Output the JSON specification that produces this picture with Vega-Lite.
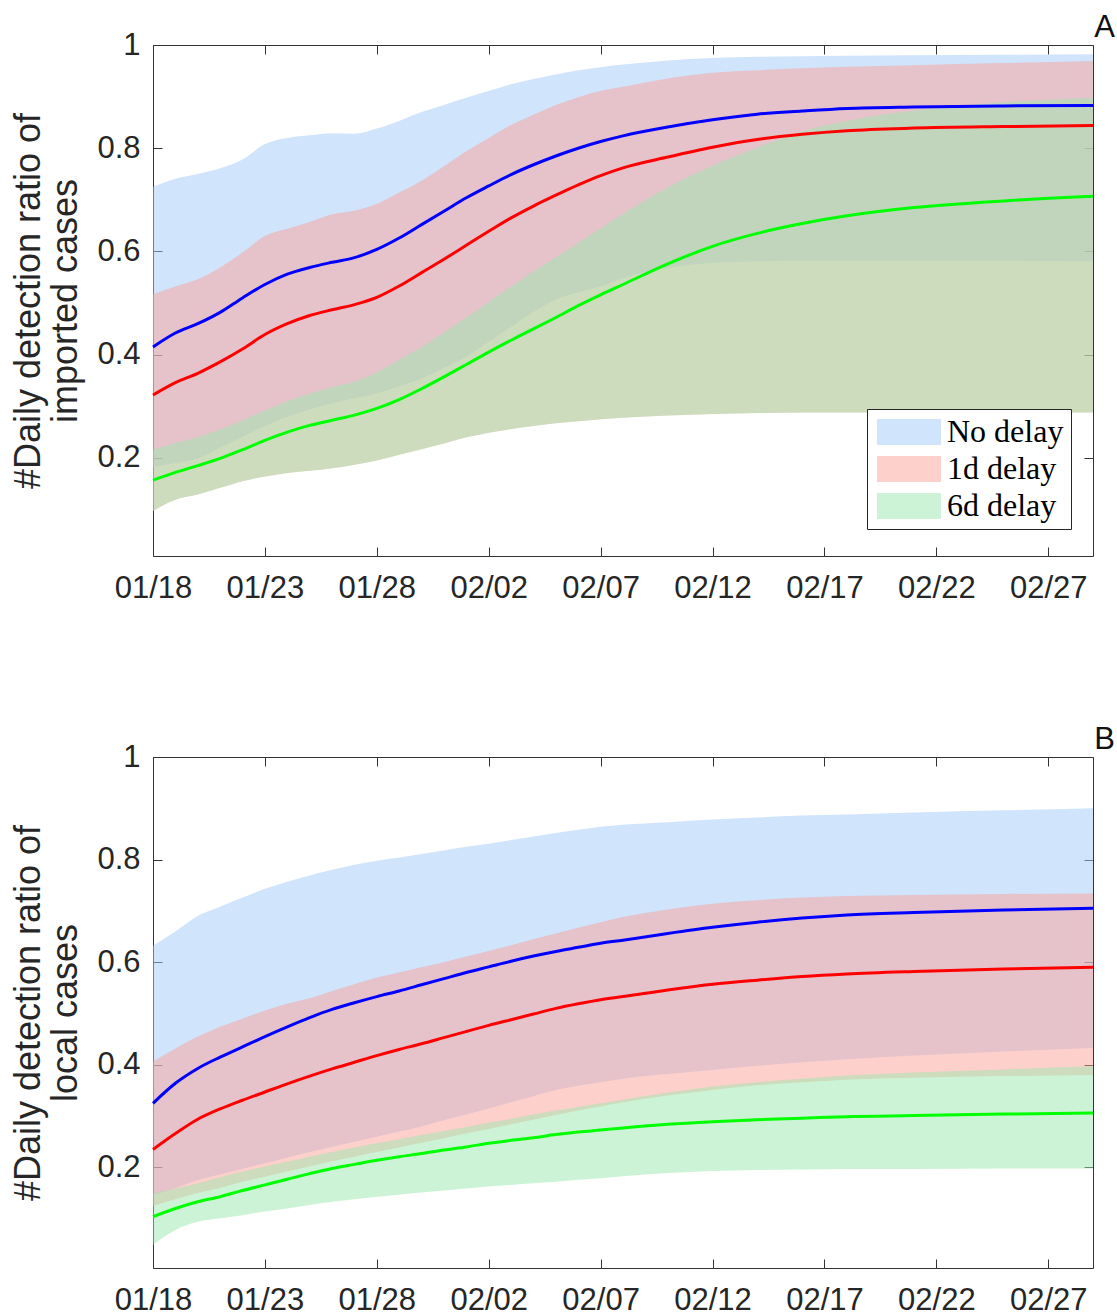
{
  "$schema": "https://vega.github.io/schema/vega-lite/v6.json",
  "background": "white",
  "padding": {"left": 10, "top": 12, "right": 2, "bottom": 2},
  "spacing": 121,
  "config": {
    "view": {"stroke": null},
    "axis": {
      "domainColor": "#333333", "domainWidth": 1,
      "tickColor": "#333333", "tickWidth": 1, "tickSize": -9,
      "labelFont": "Liberation Sans", "labelFontSize": 31, "labelColor": "#262626",
      "labelFlush": false, "labelOverlap": false,
      "titleFont": "Liberation Sans", "titleFontSize": 36, "titleFontWeight": "normal",
      "titleColor": "#262626", "titleLineHeight": 37,
      "grid": false
    },
    "axisBottom": {"labelPadding": 26},
    "axisLeft": {"labelPadding": 22, "titlePadding": 12},
    "title": {"font": "Liberation Sans", "fontSize": 31, "fontWeight": "normal", "color": "#111111"},
    "legend": {
      "labelFont": "Liberation Serif", "labelFontSize": 32, "labelColor": "#000000", "labelLimit": 400,
      "symbolType": "M-1,-1L3.92,-1L3.92,1L-1,1Z", "symbolSize": 676,
      "symbolStrokeWidth": 0, "symbolOpacity": 0.5,
      "labelOffset": 41, "rowPadding": 5, "padding": 7,
      "fillColor": "white", "strokeColor": "#262626"
    }
  },
  "datasets": {
    "imported": [
      {"delay": "No delay", "date": "2020-01-18", "mean": 0.415, "lo": 0.183, "hi": 0.725},
      {"delay": "No delay", "date": "2020-01-19", "mean": 0.442, "lo": 0.190, "hi": 0.741},
      {"delay": "No delay", "date": "2020-01-20", "mean": 0.460, "lo": 0.199, "hi": 0.750},
      {"delay": "No delay", "date": "2020-01-21", "mean": 0.482, "lo": 0.220, "hi": 0.761},
      {"delay": "No delay", "date": "2020-01-22", "mean": 0.510, "lo": 0.241, "hi": 0.778},
      {"delay": "No delay", "date": "2020-01-23", "mean": 0.536, "lo": 0.262, "hi": 0.808},
      {"delay": "No delay", "date": "2020-01-24", "mean": 0.556, "lo": 0.280, "hi": 0.820},
      {"delay": "No delay", "date": "2020-01-25", "mean": 0.569, "lo": 0.294, "hi": 0.825},
      {"delay": "No delay", "date": "2020-01-26", "mean": 0.579, "lo": 0.306, "hi": 0.829},
      {"delay": "No delay", "date": "2020-01-27", "mean": 0.588, "lo": 0.316, "hi": 0.828},
      {"delay": "No delay", "date": "2020-01-28", "mean": 0.604, "lo": 0.325, "hi": 0.838},
      {"delay": "No delay", "date": "2020-01-29", "mean": 0.626, "lo": 0.339, "hi": 0.853},
      {"delay": "No delay", "date": "2020-01-30", "mean": 0.652, "lo": 0.354, "hi": 0.870},
      {"delay": "No delay", "date": "2020-01-31", "mean": 0.678, "lo": 0.374, "hi": 0.884},
      {"delay": "No delay", "date": "2020-02-01", "mean": 0.704, "lo": 0.396, "hi": 0.898},
      {"delay": "No delay", "date": "2020-02-02", "mean": 0.727, "lo": 0.425, "hi": 0.911},
      {"delay": "No delay", "date": "2020-02-03", "mean": 0.749, "lo": 0.454, "hi": 0.924},
      {"delay": "No delay", "date": "2020-02-04", "mean": 0.768, "lo": 0.483, "hi": 0.934},
      {"delay": "No delay", "date": "2020-02-05", "mean": 0.785, "lo": 0.507, "hi": 0.943},
      {"delay": "No delay", "date": "2020-02-06", "mean": 0.800, "lo": 0.521, "hi": 0.951},
      {"delay": "No delay", "date": "2020-02-07", "mean": 0.813, "lo": 0.532, "hi": 0.957},
      {"delay": "No delay", "date": "2020-02-08", "mean": 0.824, "lo": 0.548, "hi": 0.962},
      {"delay": "No delay", "date": "2020-02-10", "mean": 0.841, "lo": 0.568, "hi": 0.970},
      {"delay": "No delay", "date": "2020-02-12", "mean": 0.855, "lo": 0.578, "hi": 0.975},
      {"delay": "No delay", "date": "2020-02-14", "mean": 0.866, "lo": 0.581, "hi": 0.977},
      {"delay": "No delay", "date": "2020-02-16", "mean": 0.872, "lo": 0.582, "hi": 0.978},
      {"delay": "No delay", "date": "2020-02-18", "mean": 0.877, "lo": 0.582, "hi": 0.979},
      {"delay": "No delay", "date": "2020-02-21", "mean": 0.880, "lo": 0.582, "hi": 0.980},
      {"delay": "No delay", "date": "2020-02-25", "mean": 0.882, "lo": 0.582, "hi": 0.981},
      {"delay": "No delay", "date": "2020-02-29", "mean": 0.883, "lo": 0.581, "hi": 0.982},
      {"delay": "1d delay", "date": "2020-01-18", "mean": 0.322, "lo": 0.097, "hi": 0.517},
      {"delay": "1d delay", "date": "2020-01-19", "mean": 0.346, "lo": 0.119, "hi": 0.532},
      {"delay": "1d delay", "date": "2020-01-20", "mean": 0.364, "lo": 0.129, "hi": 0.546},
      {"delay": "1d delay", "date": "2020-01-21", "mean": 0.386, "lo": 0.142, "hi": 0.569},
      {"delay": "1d delay", "date": "2020-01-22", "mean": 0.411, "lo": 0.155, "hi": 0.598},
      {"delay": "1d delay", "date": "2020-01-23", "mean": 0.439, "lo": 0.164, "hi": 0.630},
      {"delay": "1d delay", "date": "2020-01-24", "mean": 0.460, "lo": 0.171, "hi": 0.644},
      {"delay": "1d delay", "date": "2020-01-25", "mean": 0.476, "lo": 0.175, "hi": 0.657},
      {"delay": "1d delay", "date": "2020-01-26", "mean": 0.487, "lo": 0.180, "hi": 0.672},
      {"delay": "1d delay", "date": "2020-01-27", "mean": 0.497, "lo": 0.187, "hi": 0.679},
      {"delay": "1d delay", "date": "2020-01-28", "mean": 0.511, "lo": 0.195, "hi": 0.692},
      {"delay": "1d delay", "date": "2020-01-29", "mean": 0.533, "lo": 0.206, "hi": 0.714},
      {"delay": "1d delay", "date": "2020-01-30", "mean": 0.559, "lo": 0.217, "hi": 0.737},
      {"delay": "1d delay", "date": "2020-01-31", "mean": 0.585, "lo": 0.228, "hi": 0.765},
      {"delay": "1d delay", "date": "2020-02-01", "mean": 0.612, "lo": 0.240, "hi": 0.794},
      {"delay": "1d delay", "date": "2020-02-02", "mean": 0.639, "lo": 0.249, "hi": 0.820},
      {"delay": "1d delay", "date": "2020-02-03", "mean": 0.665, "lo": 0.256, "hi": 0.845},
      {"delay": "1d delay", "date": "2020-02-04", "mean": 0.688, "lo": 0.262, "hi": 0.865},
      {"delay": "1d delay", "date": "2020-02-05", "mean": 0.709, "lo": 0.267, "hi": 0.884},
      {"delay": "1d delay", "date": "2020-02-06", "mean": 0.729, "lo": 0.271, "hi": 0.899},
      {"delay": "1d delay", "date": "2020-02-07", "mean": 0.747, "lo": 0.275, "hi": 0.911},
      {"delay": "1d delay", "date": "2020-02-08", "mean": 0.762, "lo": 0.278, "hi": 0.919},
      {"delay": "1d delay", "date": "2020-02-10", "mean": 0.783, "lo": 0.282, "hi": 0.935},
      {"delay": "1d delay", "date": "2020-02-12", "mean": 0.802, "lo": 0.285, "hi": 0.946},
      {"delay": "1d delay", "date": "2020-02-14", "mean": 0.817, "lo": 0.287, "hi": 0.951},
      {"delay": "1d delay", "date": "2020-02-16", "mean": 0.827, "lo": 0.288, "hi": 0.955},
      {"delay": "1d delay", "date": "2020-02-18", "mean": 0.834, "lo": 0.288, "hi": 0.958},
      {"delay": "1d delay", "date": "2020-02-21", "mean": 0.839, "lo": 0.288, "hi": 0.961},
      {"delay": "1d delay", "date": "2020-02-25", "mean": 0.842, "lo": 0.288, "hi": 0.965},
      {"delay": "1d delay", "date": "2020-02-29", "mean": 0.844, "lo": 0.288, "hi": 0.969},
      {"delay": "6d delay", "date": "2020-01-18", "mean": 0.157, "lo": 0.097, "hi": 0.216},
      {"delay": "6d delay", "date": "2020-01-19", "mean": 0.172, "lo": 0.119, "hi": 0.229},
      {"delay": "6d delay", "date": "2020-01-20", "mean": 0.185, "lo": 0.129, "hi": 0.240},
      {"delay": "6d delay", "date": "2020-01-21", "mean": 0.199, "lo": 0.142, "hi": 0.255},
      {"delay": "6d delay", "date": "2020-01-22", "mean": 0.216, "lo": 0.155, "hi": 0.273},
      {"delay": "6d delay", "date": "2020-01-23", "mean": 0.234, "lo": 0.164, "hi": 0.292},
      {"delay": "6d delay", "date": "2020-01-24", "mean": 0.250, "lo": 0.171, "hi": 0.310},
      {"delay": "6d delay", "date": "2020-01-25", "mean": 0.263, "lo": 0.175, "hi": 0.325},
      {"delay": "6d delay", "date": "2020-01-26", "mean": 0.273, "lo": 0.180, "hi": 0.337},
      {"delay": "6d delay", "date": "2020-01-27", "mean": 0.283, "lo": 0.187, "hi": 0.348},
      {"delay": "6d delay", "date": "2020-01-28", "mean": 0.296, "lo": 0.195, "hi": 0.366},
      {"delay": "6d delay", "date": "2020-01-29", "mean": 0.313, "lo": 0.206, "hi": 0.390},
      {"delay": "6d delay", "date": "2020-01-30", "mean": 0.334, "lo": 0.217, "hi": 0.415},
      {"delay": "6d delay", "date": "2020-01-31", "mean": 0.357, "lo": 0.228, "hi": 0.443},
      {"delay": "6d delay", "date": "2020-02-01", "mean": 0.381, "lo": 0.240, "hi": 0.472},
      {"delay": "6d delay", "date": "2020-02-02", "mean": 0.405, "lo": 0.249, "hi": 0.502},
      {"delay": "6d delay", "date": "2020-02-03", "mean": 0.428, "lo": 0.256, "hi": 0.532},
      {"delay": "6d delay", "date": "2020-02-04", "mean": 0.450, "lo": 0.262, "hi": 0.561},
      {"delay": "6d delay", "date": "2020-02-05", "mean": 0.472, "lo": 0.267, "hi": 0.589},
      {"delay": "6d delay", "date": "2020-02-06", "mean": 0.495, "lo": 0.271, "hi": 0.617},
      {"delay": "6d delay", "date": "2020-02-07", "mean": 0.516, "lo": 0.275, "hi": 0.645},
      {"delay": "6d delay", "date": "2020-02-08", "mean": 0.536, "lo": 0.278, "hi": 0.673},
      {"delay": "6d delay", "date": "2020-02-10", "mean": 0.576, "lo": 0.282, "hi": 0.724},
      {"delay": "6d delay", "date": "2020-02-12", "mean": 0.610, "lo": 0.285, "hi": 0.766},
      {"delay": "6d delay", "date": "2020-02-14", "mean": 0.635, "lo": 0.287, "hi": 0.801},
      {"delay": "6d delay", "date": "2020-02-16", "mean": 0.654, "lo": 0.288, "hi": 0.833},
      {"delay": "6d delay", "date": "2020-02-18", "mean": 0.669, "lo": 0.288, "hi": 0.853},
      {"delay": "6d delay", "date": "2020-02-21", "mean": 0.685, "lo": 0.288, "hi": 0.873},
      {"delay": "6d delay", "date": "2020-02-25", "mean": 0.698, "lo": 0.288, "hi": 0.889},
      {"delay": "6d delay", "date": "2020-02-29", "mean": 0.707, "lo": 0.288, "hi": 0.898}
    ],
    "local": [
      {"delay": "No delay", "date": "2020-01-18", "mean": 0.325, "lo": 0.146, "hi": 0.632},
      {"delay": "No delay", "date": "2020-01-19", "mean": 0.364, "lo": 0.160, "hi": 0.660},
      {"delay": "No delay", "date": "2020-01-20", "mean": 0.393, "lo": 0.175, "hi": 0.690},
      {"delay": "No delay", "date": "2020-01-21", "mean": 0.415, "lo": 0.186, "hi": 0.708},
      {"delay": "No delay", "date": "2020-01-22", "mean": 0.435, "lo": 0.197, "hi": 0.726},
      {"delay": "No delay", "date": "2020-01-23", "mean": 0.455, "lo": 0.208, "hi": 0.743},
      {"delay": "No delay", "date": "2020-01-24", "mean": 0.474, "lo": 0.219, "hi": 0.757},
      {"delay": "No delay", "date": "2020-01-25", "mean": 0.492, "lo": 0.230, "hi": 0.769},
      {"delay": "No delay", "date": "2020-01-26", "mean": 0.508, "lo": 0.240, "hi": 0.780},
      {"delay": "No delay", "date": "2020-01-27", "mean": 0.521, "lo": 0.250, "hi": 0.790},
      {"delay": "No delay", "date": "2020-01-28", "mean": 0.533, "lo": 0.260, "hi": 0.798},
      {"delay": "No delay", "date": "2020-01-29", "mean": 0.544, "lo": 0.270, "hi": 0.804},
      {"delay": "No delay", "date": "2020-01-30", "mean": 0.556, "lo": 0.280, "hi": 0.811},
      {"delay": "No delay", "date": "2020-01-31", "mean": 0.568, "lo": 0.292, "hi": 0.818},
      {"delay": "No delay", "date": "2020-02-01", "mean": 0.580, "lo": 0.303, "hi": 0.825},
      {"delay": "No delay", "date": "2020-02-02", "mean": 0.591, "lo": 0.315, "hi": 0.831},
      {"delay": "No delay", "date": "2020-02-03", "mean": 0.602, "lo": 0.327, "hi": 0.838},
      {"delay": "No delay", "date": "2020-02-04", "mean": 0.612, "lo": 0.339, "hi": 0.845},
      {"delay": "No delay", "date": "2020-02-05", "mean": 0.621, "lo": 0.351, "hi": 0.852},
      {"delay": "No delay", "date": "2020-02-06", "mean": 0.629, "lo": 0.359, "hi": 0.858},
      {"delay": "No delay", "date": "2020-02-07", "mean": 0.637, "lo": 0.366, "hi": 0.864},
      {"delay": "No delay", "date": "2020-02-08", "mean": 0.643, "lo": 0.373, "hi": 0.868},
      {"delay": "No delay", "date": "2020-02-10", "mean": 0.656, "lo": 0.382, "hi": 0.873},
      {"delay": "No delay", "date": "2020-02-12", "mean": 0.668, "lo": 0.390, "hi": 0.878},
      {"delay": "No delay", "date": "2020-02-14", "mean": 0.678, "lo": 0.398, "hi": 0.882},
      {"delay": "No delay", "date": "2020-02-16", "mean": 0.686, "lo": 0.405, "hi": 0.886},
      {"delay": "No delay", "date": "2020-02-18", "mean": 0.692, "lo": 0.411, "hi": 0.888},
      {"delay": "No delay", "date": "2020-02-21", "mean": 0.697, "lo": 0.418, "hi": 0.892},
      {"delay": "No delay", "date": "2020-02-25", "mean": 0.702, "lo": 0.426, "hi": 0.896},
      {"delay": "No delay", "date": "2020-02-29", "mean": 0.705, "lo": 0.433, "hi": 0.900},
      {"delay": "1d delay", "date": "2020-01-18", "mean": 0.235, "lo": 0.125, "hi": 0.406},
      {"delay": "1d delay", "date": "2020-01-19", "mean": 0.266, "lo": 0.138, "hi": 0.432},
      {"delay": "1d delay", "date": "2020-01-20", "mean": 0.294, "lo": 0.150, "hi": 0.455},
      {"delay": "1d delay", "date": "2020-01-21", "mean": 0.314, "lo": 0.160, "hi": 0.474},
      {"delay": "1d delay", "date": "2020-01-22", "mean": 0.331, "lo": 0.172, "hi": 0.490},
      {"delay": "1d delay", "date": "2020-01-23", "mean": 0.347, "lo": 0.182, "hi": 0.506},
      {"delay": "1d delay", "date": "2020-01-24", "mean": 0.363, "lo": 0.192, "hi": 0.519},
      {"delay": "1d delay", "date": "2020-01-25", "mean": 0.378, "lo": 0.202, "hi": 0.530},
      {"delay": "1d delay", "date": "2020-01-26", "mean": 0.392, "lo": 0.212, "hi": 0.544},
      {"delay": "1d delay", "date": "2020-01-27", "mean": 0.405, "lo": 0.221, "hi": 0.557},
      {"delay": "1d delay", "date": "2020-01-28", "mean": 0.418, "lo": 0.230, "hi": 0.570},
      {"delay": "1d delay", "date": "2020-01-29", "mean": 0.430, "lo": 0.239, "hi": 0.580},
      {"delay": "1d delay", "date": "2020-01-30", "mean": 0.441, "lo": 0.248, "hi": 0.590},
      {"delay": "1d delay", "date": "2020-01-31", "mean": 0.453, "lo": 0.257, "hi": 0.600},
      {"delay": "1d delay", "date": "2020-02-01", "mean": 0.465, "lo": 0.266, "hi": 0.611},
      {"delay": "1d delay", "date": "2020-02-02", "mean": 0.477, "lo": 0.275, "hi": 0.622},
      {"delay": "1d delay", "date": "2020-02-03", "mean": 0.488, "lo": 0.284, "hi": 0.633},
      {"delay": "1d delay", "date": "2020-02-04", "mean": 0.499, "lo": 0.293, "hi": 0.645},
      {"delay": "1d delay", "date": "2020-02-05", "mean": 0.510, "lo": 0.302, "hi": 0.656},
      {"delay": "1d delay", "date": "2020-02-06", "mean": 0.519, "lo": 0.311, "hi": 0.667},
      {"delay": "1d delay", "date": "2020-02-07", "mean": 0.527, "lo": 0.319, "hi": 0.678},
      {"delay": "1d delay", "date": "2020-02-08", "mean": 0.533, "lo": 0.327, "hi": 0.688},
      {"delay": "1d delay", "date": "2020-02-10", "mean": 0.546, "lo": 0.340, "hi": 0.703},
      {"delay": "1d delay", "date": "2020-02-12", "mean": 0.557, "lo": 0.351, "hi": 0.714},
      {"delay": "1d delay", "date": "2020-02-14", "mean": 0.565, "lo": 0.360, "hi": 0.721},
      {"delay": "1d delay", "date": "2020-02-16", "mean": 0.572, "lo": 0.366, "hi": 0.726},
      {"delay": "1d delay", "date": "2020-02-18", "mean": 0.577, "lo": 0.371, "hi": 0.729},
      {"delay": "1d delay", "date": "2020-02-21", "mean": 0.582, "lo": 0.375, "hi": 0.731},
      {"delay": "1d delay", "date": "2020-02-25", "mean": 0.587, "lo": 0.378, "hi": 0.733},
      {"delay": "1d delay", "date": "2020-02-29", "mean": 0.590, "lo": 0.380, "hi": 0.734},
      {"delay": "6d delay", "date": "2020-01-18", "mean": 0.104, "lo": 0.049, "hi": 0.149},
      {"delay": "6d delay", "date": "2020-01-19", "mean": 0.120, "lo": 0.078, "hi": 0.159},
      {"delay": "6d delay", "date": "2020-01-20", "mean": 0.133, "lo": 0.094, "hi": 0.169},
      {"delay": "6d delay", "date": "2020-01-21", "mean": 0.143, "lo": 0.101, "hi": 0.181},
      {"delay": "6d delay", "date": "2020-01-22", "mean": 0.155, "lo": 0.107, "hi": 0.192},
      {"delay": "6d delay", "date": "2020-01-23", "mean": 0.166, "lo": 0.114, "hi": 0.202},
      {"delay": "6d delay", "date": "2020-01-24", "mean": 0.177, "lo": 0.120, "hi": 0.211},
      {"delay": "6d delay", "date": "2020-01-25", "mean": 0.188, "lo": 0.127, "hi": 0.221},
      {"delay": "6d delay", "date": "2020-01-26", "mean": 0.198, "lo": 0.133, "hi": 0.230},
      {"delay": "6d delay", "date": "2020-01-27", "mean": 0.206, "lo": 0.138, "hi": 0.239},
      {"delay": "6d delay", "date": "2020-01-28", "mean": 0.214, "lo": 0.143, "hi": 0.247},
      {"delay": "6d delay", "date": "2020-01-29", "mean": 0.221, "lo": 0.147, "hi": 0.255},
      {"delay": "6d delay", "date": "2020-01-30", "mean": 0.227, "lo": 0.151, "hi": 0.263},
      {"delay": "6d delay", "date": "2020-01-31", "mean": 0.234, "lo": 0.155, "hi": 0.271},
      {"delay": "6d delay", "date": "2020-02-01", "mean": 0.240, "lo": 0.159, "hi": 0.279},
      {"delay": "6d delay", "date": "2020-02-02", "mean": 0.247, "lo": 0.163, "hi": 0.287},
      {"delay": "6d delay", "date": "2020-02-03", "mean": 0.253, "lo": 0.166, "hi": 0.295},
      {"delay": "6d delay", "date": "2020-02-04", "mean": 0.258, "lo": 0.169, "hi": 0.303},
      {"delay": "6d delay", "date": "2020-02-05", "mean": 0.264, "lo": 0.172, "hi": 0.311},
      {"delay": "6d delay", "date": "2020-02-06", "mean": 0.269, "lo": 0.176, "hi": 0.318},
      {"delay": "6d delay", "date": "2020-02-07", "mean": 0.273, "lo": 0.179, "hi": 0.325},
      {"delay": "6d delay", "date": "2020-02-08", "mean": 0.277, "lo": 0.183, "hi": 0.332},
      {"delay": "6d delay", "date": "2020-02-10", "mean": 0.284, "lo": 0.189, "hi": 0.346},
      {"delay": "6d delay", "date": "2020-02-12", "mean": 0.289, "lo": 0.193, "hi": 0.358},
      {"delay": "6d delay", "date": "2020-02-14", "mean": 0.293, "lo": 0.195, "hi": 0.366},
      {"delay": "6d delay", "date": "2020-02-16", "mean": 0.296, "lo": 0.196, "hi": 0.373},
      {"delay": "6d delay", "date": "2020-02-18", "mean": 0.299, "lo": 0.197, "hi": 0.379},
      {"delay": "6d delay", "date": "2020-02-21", "mean": 0.301, "lo": 0.197, "hi": 0.385},
      {"delay": "6d delay", "date": "2020-02-25", "mean": 0.304, "lo": 0.198, "hi": 0.391},
      {"delay": "6d delay", "date": "2020-02-29", "mean": 0.306, "lo": 0.198, "hi": 0.397}
    ]
  },
  "vconcat": [
    {
      "data": {"name": "imported"},
      "width": 940,
      "height": 511,
      "title": {"text": "A", "anchor": "end", "frame": "group", "dx": 22, "offset": -15},
      "layer": [
        {
          "mark": {"type": "area", "opacity": 0.5, "interpolate": "monotone"},
          "encoding": {
            "x": {
              "field": "date", "type": "temporal",
              "scale": {"type": "utc", "domain": [{"year": 2020, "month": 1, "date": 18, "utc": true}, {"year": 2020, "month": 2, "date": 29, "utc": true}]},
              "axis": {"orient": "bottom", "format": "%m/%d", "title": null,
                "values": [{"year": 2020, "month": 1, "date": 18, "utc": true}, {"year": 2020, "month": 1, "date": 23, "utc": true}, {"year": 2020, "month": 1, "date": 28, "utc": true}, {"year": 2020, "month": 2, "date": 2, "utc": true}, {"year": 2020, "month": 2, "date": 7, "utc": true}, {"year": 2020, "month": 2, "date": 12, "utc": true}, {"year": 2020, "month": 2, "date": 17, "utc": true}, {"year": 2020, "month": 2, "date": 22, "utc": true}, {"year": 2020, "month": 2, "date": 27, "utc": true}]}
            },
            "y": {
              "field": "lo", "type": "quantitative",
              "scale": {"domain": [0.01, 1], "nice": false, "zero": false},
              "axis": {"orient": "left", "values": [0.2, 0.4, 0.6, 0.8, 1], "format": "~g", "title": ["#Daily detection ratio of", "imported cases"]}
            },
            "y2": {"field": "hi"},
            "color": {
              "field": "delay", "type": "nominal",
              "scale": {"domain": ["No delay", "1d delay", "6d delay"], "range": ["#a1c9f9", "#fba199", "#9be7ad"]},
              "legend": {"title": null, "orient": "none", "legendX": 714, "legendY": 364}
            }
          }
        },
        {
          "mark": {"type": "line", "strokeWidth": 3, "interpolate": "monotone"},
          "encoding": {
            "x": {
              "field": "date", "type": "temporal",
              "axis": {"orient": "top", "labels": false, "title": null,
                "values": [{"year": 2020, "month": 1, "date": 18, "utc": true}, {"year": 2020, "month": 1, "date": 23, "utc": true}, {"year": 2020, "month": 1, "date": 28, "utc": true}, {"year": 2020, "month": 2, "date": 2, "utc": true}, {"year": 2020, "month": 2, "date": 7, "utc": true}, {"year": 2020, "month": 2, "date": 12, "utc": true}, {"year": 2020, "month": 2, "date": 17, "utc": true}, {"year": 2020, "month": 2, "date": 22, "utc": true}, {"year": 2020, "month": 2, "date": 27, "utc": true}]}
            },
            "y": {
              "field": "mean", "type": "quantitative",
              "axis": {"orient": "right", "labels": false, "title": null, "values": [0.2, 0.4, 0.6, 0.8, 1]}
            },
            "stroke": {
              "field": "delay", "type": "nominal",
              "scale": {"domain": ["No delay", "1d delay", "6d delay"], "range": ["#0000ff", "#ff0000", "#00ff00"]},
              "legend": null
            }
          }
        }
      ],
      "resolve": {"axis": {"x": "independent", "y": "independent"}}
    },
    {
      "data": {"name": "local"},
      "width": 940,
      "height": 511,
      "title": {"text": "B", "anchor": "end", "frame": "group", "dx": 22, "offset": -15},
      "layer": [
        {
          "mark": {"type": "area", "opacity": 0.5, "interpolate": "monotone"},
          "encoding": {
            "x": {
              "field": "date", "type": "temporal",
              "scale": {"type": "utc", "domain": [{"year": 2020, "month": 1, "date": 18, "utc": true}, {"year": 2020, "month": 2, "date": 29, "utc": true}]},
              "axis": {"orient": "bottom", "format": "%m/%d", "title": null,
                "values": [{"year": 2020, "month": 1, "date": 18, "utc": true}, {"year": 2020, "month": 1, "date": 23, "utc": true}, {"year": 2020, "month": 1, "date": 28, "utc": true}, {"year": 2020, "month": 2, "date": 2, "utc": true}, {"year": 2020, "month": 2, "date": 7, "utc": true}, {"year": 2020, "month": 2, "date": 12, "utc": true}, {"year": 2020, "month": 2, "date": 17, "utc": true}, {"year": 2020, "month": 2, "date": 22, "utc": true}, {"year": 2020, "month": 2, "date": 27, "utc": true}]}
            },
            "y": {
              "field": "lo", "type": "quantitative",
              "scale": {"domain": [0.004, 1], "nice": false, "zero": false},
              "axis": {"orient": "left", "values": [0.2, 0.4, 0.6, 0.8, 1], "format": "~g", "title": ["#Daily detection ratio of", "local cases"]}
            },
            "y2": {"field": "hi"},
            "color": {
              "field": "delay", "type": "nominal",
              "scale": {"domain": ["No delay", "1d delay", "6d delay"], "range": ["#a1c9f9", "#fba199", "#9be7ad"]},
              "legend": {"title": null, "orient": "none", "legendX": 714, "legendY": 369}
            }
          }
        },
        {
          "mark": {"type": "line", "strokeWidth": 3, "interpolate": "monotone"},
          "encoding": {
            "x": {
              "field": "date", "type": "temporal",
              "axis": {"orient": "top", "labels": false, "title": null,
                "values": [{"year": 2020, "month": 1, "date": 18, "utc": true}, {"year": 2020, "month": 1, "date": 23, "utc": true}, {"year": 2020, "month": 1, "date": 28, "utc": true}, {"year": 2020, "month": 2, "date": 2, "utc": true}, {"year": 2020, "month": 2, "date": 7, "utc": true}, {"year": 2020, "month": 2, "date": 12, "utc": true}, {"year": 2020, "month": 2, "date": 17, "utc": true}, {"year": 2020, "month": 2, "date": 22, "utc": true}, {"year": 2020, "month": 2, "date": 27, "utc": true}]}
            },
            "y": {
              "field": "mean", "type": "quantitative",
              "axis": {"orient": "right", "labels": false, "title": null, "values": [0.2, 0.4, 0.6, 0.8, 1]}
            },
            "stroke": {
              "field": "delay", "type": "nominal",
              "scale": {"domain": ["No delay", "1d delay", "6d delay"], "range": ["#0000ff", "#ff0000", "#00ff00"]},
              "legend": null
            }
          }
        }
      ],
      "resolve": {"axis": {"x": "independent", "y": "independent"}}
    }
  ]
}
